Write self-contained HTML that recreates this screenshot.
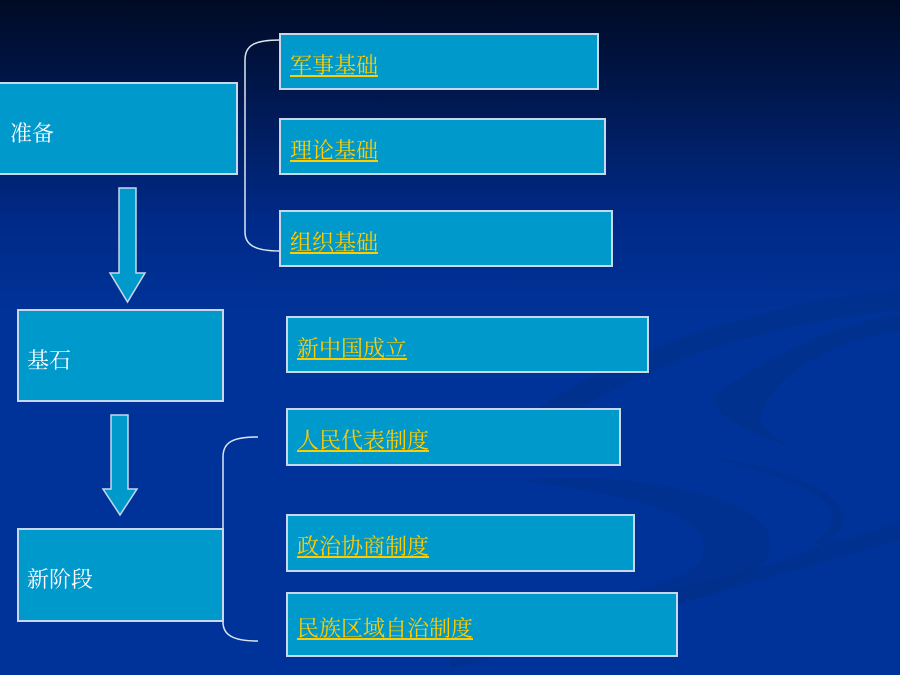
<!DOCTYPE html>
<html><head><meta charset="utf-8"><style>
body{margin:0}
#c{position:relative;width:900px;height:675px;overflow:hidden;background:linear-gradient(to bottom,#000a24 0px,#001a55 110px,#002a88 220px,#003399 320px,#003399 675px);font-family:"Liberation Serif","Noto Serif CJK SC",serif}
.b{position:absolute;box-sizing:border-box;background:#0099cc;border:2px solid #c8d8ea}
.t{position:absolute;color:#ffcc00;font-size:22px;text-decoration:underline;text-underline-offset:2px;line-height:1;white-space:nowrap}
.w{position:absolute;color:#fff;font-size:22px;line-height:1;white-space:nowrap}
svg{position:absolute;left:0;top:0}
</style></head><body><div id="c">
<svg width="900" height="675">
<path d="M520 420 C650 330 800 300 900 290 L900 310 C800 320 680 345 560 420 Z" fill="#00308a" opacity="0.7"/>
<path d="M720 390 C780 350 850 320 900 315 L900 330 C840 340 770 370 760 420 C770 440 800 450 800 450 C740 430 700 410 720 390Z" fill="#00308a" opacity="0.7"/>
<path d="M520 480 C660 500 720 520 700 560 C690 580 620 600 450 620 L450 640 C650 620 760 590 770 550 C780 500 650 470 520 480Z" fill="#00308a" opacity="0.6"/>
<path d="M700 455 C800 470 860 500 840 530 C830 545 790 560 730 575 L450 650 L450 670 L900 540 L900 520 C880 530 850 540 810 545 C850 520 850 490 700 455Z" fill="#00308a" opacity="0.6"/>
<path d="M280 40 C255 40 245 45 245 60 L245 232 C245 245 255 251 280 251" fill="none" stroke="#dde6f2" stroke-width="1.5"/>
<path d="M258 437 C233 437 223 442 223 457 L223 622 C223 635 233 641 258 641" fill="none" stroke="#dde6f2" stroke-width="1.5"/>
<path d="M119 188 H136 V273 H145 L127.5 302 L110 273 H119 Z" fill="#0099cc" stroke="#c8d8ea" stroke-width="1.5"/>
<path d="M111 415 H128 V489 H137 L120 515 L103 489 H111 Z" fill="#0099cc" stroke="#c8d8ea" stroke-width="1.5"/>
</svg>
<div class="b" style="left:-2px;top:82px;width:240px;height:93px"></div>
<div class="w" style="left:10px;top:123px">准备</div>
<div class="b" style="left:17px;top:309px;width:207px;height:93px"></div>
<div class="w" style="left:27px;top:350px">基石</div>
<div class="b" style="left:17px;top:528px;width:207px;height:94px"></div>
<div class="w" style="left:27px;top:569px">新阶段</div>
<div class="b" style="left:279px;top:33px;width:320px;height:57px"></div>
<div class="t" style="left:290px;top:55px">军事基础</div>
<div class="b" style="left:279px;top:118px;width:327px;height:57px"></div>
<div class="t" style="left:290px;top:140px">理论基础</div>
<div class="b" style="left:279px;top:210px;width:334px;height:57px"></div>
<div class="t" style="left:290px;top:232px">组织基础</div>
<div class="b" style="left:286px;top:316px;width:363px;height:57px"></div>
<div class="t" style="left:297px;top:338px">新中国成立</div>
<div class="b" style="left:286px;top:408px;width:335px;height:58px"></div>
<div class="t" style="left:297px;top:430px">人民代表制度</div>
<div class="b" style="left:286px;top:514px;width:349px;height:58px"></div>
<div class="t" style="left:297px;top:536px">政治协商制度</div>
<div class="b" style="left:286px;top:592px;width:392px;height:65px"></div>
<div class="t" style="left:297px;top:618px">民族区域自治制度</div>
</div></body></html>
